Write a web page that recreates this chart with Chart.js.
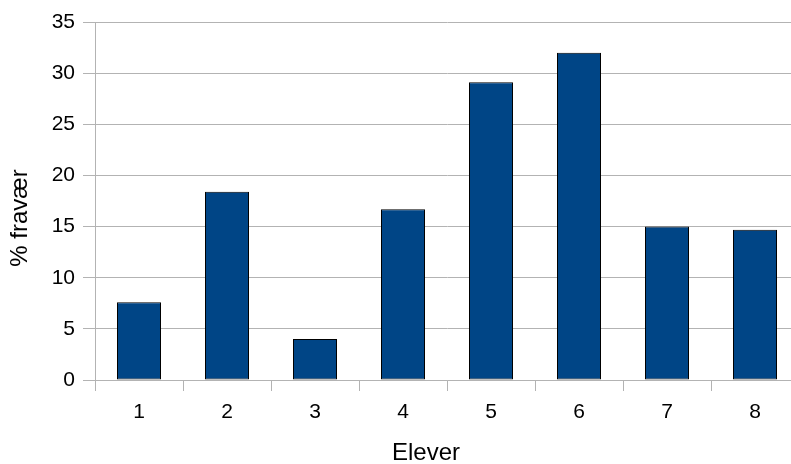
<!DOCTYPE html>
<html>
<head>
<meta charset="utf-8">
<script src="https://cdn.jsdelivr.net/npm/chart.js@4.4.0/dist/chart.umd.min.js"></script>
<style>
  html, body { margin: 0; padding: 0; background: #fff; overflow: hidden; }
  #wrap { width: 791px; height: 464px; overflow: hidden; }
</style>
</head>
<body>
<div id="wrap"><canvas id="chart" width="801" height="464"></canvas></div>
<script>
const ELEVER = ['1', '2', '3', '4', '5', '6', '7', '8'];
const FRAVAER = [7.6, 18.4, 4.0, 16.7, 29.1, 32.0, 15.0, 14.7];
const Y_MIN = 0;
const Y_MAX = 35;
const Y_STEP = 5;
const X_TITLE = 'Elever';
const Y_TITLE = '% fravær';

const gridGray = '#b3b3b3';
const tickFont = { family: 'Liberation Sans', size: 21 };

// axis titles placed like the original (centred on the visible page, not the plot)
const axisTitles = {
  id: 'axisTitles',
  afterDraw(chart) {
    const { ctx, chartArea } = chart;
    ctx.save();
    ctx.font = '24px "Liberation Sans"';
    ctx.fillStyle = '#000';
    ctx.textAlign = 'center';
    ctx.textBaseline = 'middle';
    ctx.fillText(X_TITLE, (chartArea.left + 757) / 2, chart.height - 11);
    ctx.translate(20, (chartArea.top + chart.height) / 2 - 25);
    ctx.rotate(-Math.PI / 2);
    ctx.fillText(Y_TITLE, 0, 0);
    ctx.restore();
  },
};

new Chart(document.getElementById('chart'), {
  type: 'bar',
  data: {
    labels: ELEVER,
    datasets: [{
      label: Y_TITLE,
      data: FRAVAER,
      backgroundColor: '#004586',
      borderColor: '#000000',
      borderWidth: 1,
      borderSkipped: false,
      categoryPercentage: 1,
      barPercentage: 0.5,
    }],
  },
  options: {
    responsive: false,
    animation: false,
    devicePixelRatio: 1,
    layout: { padding: { left: 0, right: 2, top: 22, bottom: 0 } },
    plugins: {
      legend: { display: false },
      tooltip: { enabled: false },
    },
    scales: {
      x: {
        offset: true,
        grid: {
          offset: true,
          drawOnChartArea: false,
          drawTicks: true,
          tickLength: 11,
          color: gridGray,
        },
        border: { display: true, color: gridGray, width: 1 },
        ticks: { color: '#000', font: tickFont, padding: 9 },
        afterFit: (s) => { s.height = 84; },
      },
      y: {
        min: Y_MIN,
        max: Y_MAX,
        grid: { color: gridGray, tickLength: 12 },
        border: { display: true, color: gridGray, width: 1 },
        ticks: { stepSize: Y_STEP, color: '#000', font: tickFont, padding: 8 },
        afterFit: (s) => { s.width = 95; },
      },
    },
  },
  plugins: [axisTitles],
});
</script>
</body>
</html>
